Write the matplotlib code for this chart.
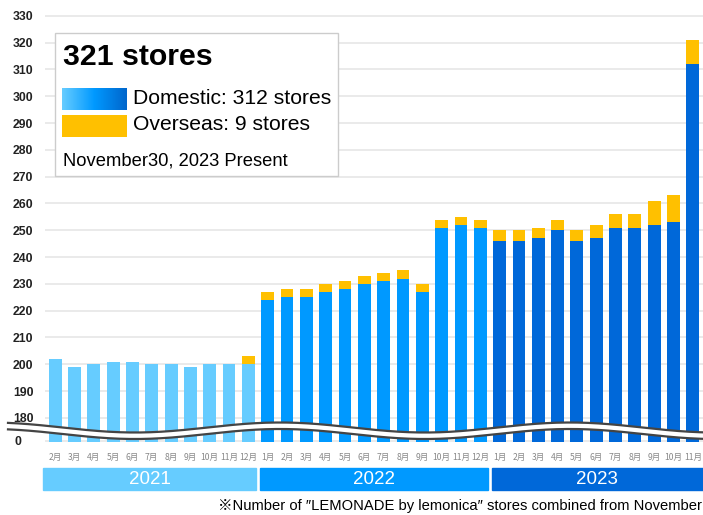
import numpy as np
import matplotlib

matplotlib.use("Agg")
import matplotlib.pyplot as plt
from matplotlib.colors import LinearSegmentedColormap
from matplotlib.patches import Rectangle, Polygon
from matplotlib.transforms import blended_transform_factory

LATIN = ["Liberation Sans", "Noto Sans CJK JP", "DejaVu Sans"]
CJK = ["Noto Sans CJK JP", "DejaVu Sans"]
plt.rcParams["font.family"] = LATIN

YEARS = ["2021", "2022", "2023"]
MONTHS_2021 = [2, 3, 4, 5, 6, 7, 8, 9, 10, 11, 12]
MONTHS_2022 = [1, 2, 3, 4, 5, 6, 7, 8, 9, 10, 11, 12]
MONTHS_2023 = [1, 2, 3, 4, 5, 6, 7, 8, 9, 10, 11]

DOMESTIC_2021 = [202, 199, 200, 201, 201, 200, 200, 199, 200, 200, 200]
OVERSEAS_2021 = [0, 0, 0, 0, 0, 0, 0, 0, 0, 0, 3]
DOMESTIC_2022 = [224, 225, 225, 227, 228, 230, 231, 232, 227, 251, 252, 251]
OVERSEAS_2022 = [3, 3, 3, 3, 3, 3, 3, 3, 3, 3, 3, 3]
DOMESTIC_2023 = [246, 246, 247, 250, 246, 247, 251, 251, 252, 253, 312]
OVERSEAS_2023 = [4, 4, 4, 4, 4, 5, 5, 5, 9, 10, 9]

YEAR_COLORS = ["#66CCFF", "#0099FF", "#0068D9"]
OVERSEAS_COLOR = "#FFC000"
GRID_COLOR = "#E8E8E8"

Y_TICKS = list(range(180, 331, 10))
Y_BOTTOM = 171.0   # where the broken axis shows "0"
Y_TOP = 332.2

W, H = 703, 515

months = [MONTHS_2021, MONTHS_2022, MONTHS_2023]
domestic = DOMESTIC_2021 + DOMESTIC_2022 + DOMESTIC_2023
overseas = OVERSEAS_2021 + OVERSEAS_2022 + OVERSEAS_2023
colors = [c for c, m in zip(YEAR_COLORS, months) for _ in m]
labels = [f"{m}月" for ms in months for m in ms]
x = np.arange(len(domestic))

fig = plt.figure(figsize=(W / 100, H / 100), dpi=100)
ax = fig.add_axes([45 / W, 73 / H, 658 / W, 432 / H])

ax.bar(x, domestic, width=0.67, color=colors, zorder=2)
ax.bar(x, overseas, width=0.67, bottom=domestic, color=OVERSEAS_COLOR, zorder=2)

ax.set_xlim(-0.52, len(x) - 0.48)
ax.set_ylim(Y_BOTTOM, Y_TOP)
ax.set_yticks(Y_TICKS)
ax.set_yticklabels([str(v) for v in Y_TICKS], fontweight="bold", fontsize=8.8, color="#222222")
ax.grid(True, axis="y", color=GRID_COLOR, linewidth=1.3, zorder=0)
ax.axhline(Y_BOTTOM + 0.3, color=GRID_COLOR, linewidth=1.3, zorder=0)
ax.set_xticks(x)
ax.set_xticklabels(labels, fontsize=6.2, color="#888888", family=CJK)
ax.tick_params(axis="x", length=0, pad=8)
ax.tick_params(axis="y", length=0, pad=8.4)
for side in ax.spines.values():
    side.set_visible(False)

# "0" label at the bottom of the broken axis
zero_tr = blended_transform_factory(fig.transFigure, ax.transData)
ax.text(18 / W, Y_BOTTOM, "0", transform=zero_tr, fontsize=8.8, fontweight="bold",
        color="#222222", ha="center", va="center", clip_on=False)

# year bands
band_tr = blended_transform_factory(ax.transData, fig.transFigure)
start = 0
for year, ms, color in zip(YEARS, months, YEAR_COLORS):
    left = start - 0.5 + (0.1 if start else -0.12)
    right = start + len(ms) - 0.5 - 0.1
    if year == YEARS[-1]:
        right = start + len(ms) - 0.49
    ax.add_patch(Rectangle((left, (H - 490) / H), right - left, 22 / H,
                           transform=band_tr, color=color, clip_on=False, zorder=3))
    ax.text((left + right) / 2, (H - 479) / H, year, transform=band_tr, color="white",
            fontsize=13.5, ha="center", va="center", clip_on=False, zorder=4)
    start += len(ms)

# overlay in pixel coordinates for the axis break and the info box
ov = fig.add_axes([0, 0, 1, 1], zorder=5)
ov.patch.set_alpha(0)
ov.axis("off")

xs = np.linspace(8, W, 400)
top = 427.5 - 5 * np.cos(2 * np.pi * (xs - 280) / 290)
bot = top + 6.5
ov.add_patch(Polygon(np.column_stack([np.r_[xs, xs[::-1]], np.r_[top, bot[::-1]]]),
                     closed=True, facecolor="white", edgecolor="none"))
ov.plot(xs, top, color="#444444", linewidth=1.6)
ov.plot(xs, bot, color="#444444", linewidth=1.6)

ov.add_patch(Rectangle((55, 33), 283, 143, facecolor="white", edgecolor="#CCCCCC",
                       linewidth=1, zorder=1))
ov.text(63, 57, "321 stores", fontsize=21.8, fontweight="bold", va="center", ha="left", zorder=3)
grad = LinearSegmentedColormap.from_list("dom", ["#66CCFF", "#0099FF", "#0066CC"])
ov.imshow(np.linspace(0, 1, 100)[None, :], cmap=grad, extent=(62, 127, 110, 88),
          aspect="auto", zorder=2)
ov.add_patch(Rectangle((62, 115), 65, 22, facecolor=OVERSEAS_COLOR, edgecolor="none", zorder=2))
ov.text(133, 99, "Domestic: 312 stores", fontsize=15.2, va="center", ha="left", zorder=3)
ov.text(133, 125, "Overseas: 9 stores", fontsize=15.2, va="center", ha="left", zorder=3)
ov.text(63, 161, "November30, 2023 Present", fontsize=13.2, va="center", ha="left", zorder=3)
ov.set_xlim(0, W)
ov.set_ylim(H, 0)

fig.text(702 / W, (H - 506) / H, "※Number of ″LEMONADE by lemonica″ stores combined from November",
         fontsize=10.6, ha="right", va="center")

fig.savefig("out.png", dpi=100)
